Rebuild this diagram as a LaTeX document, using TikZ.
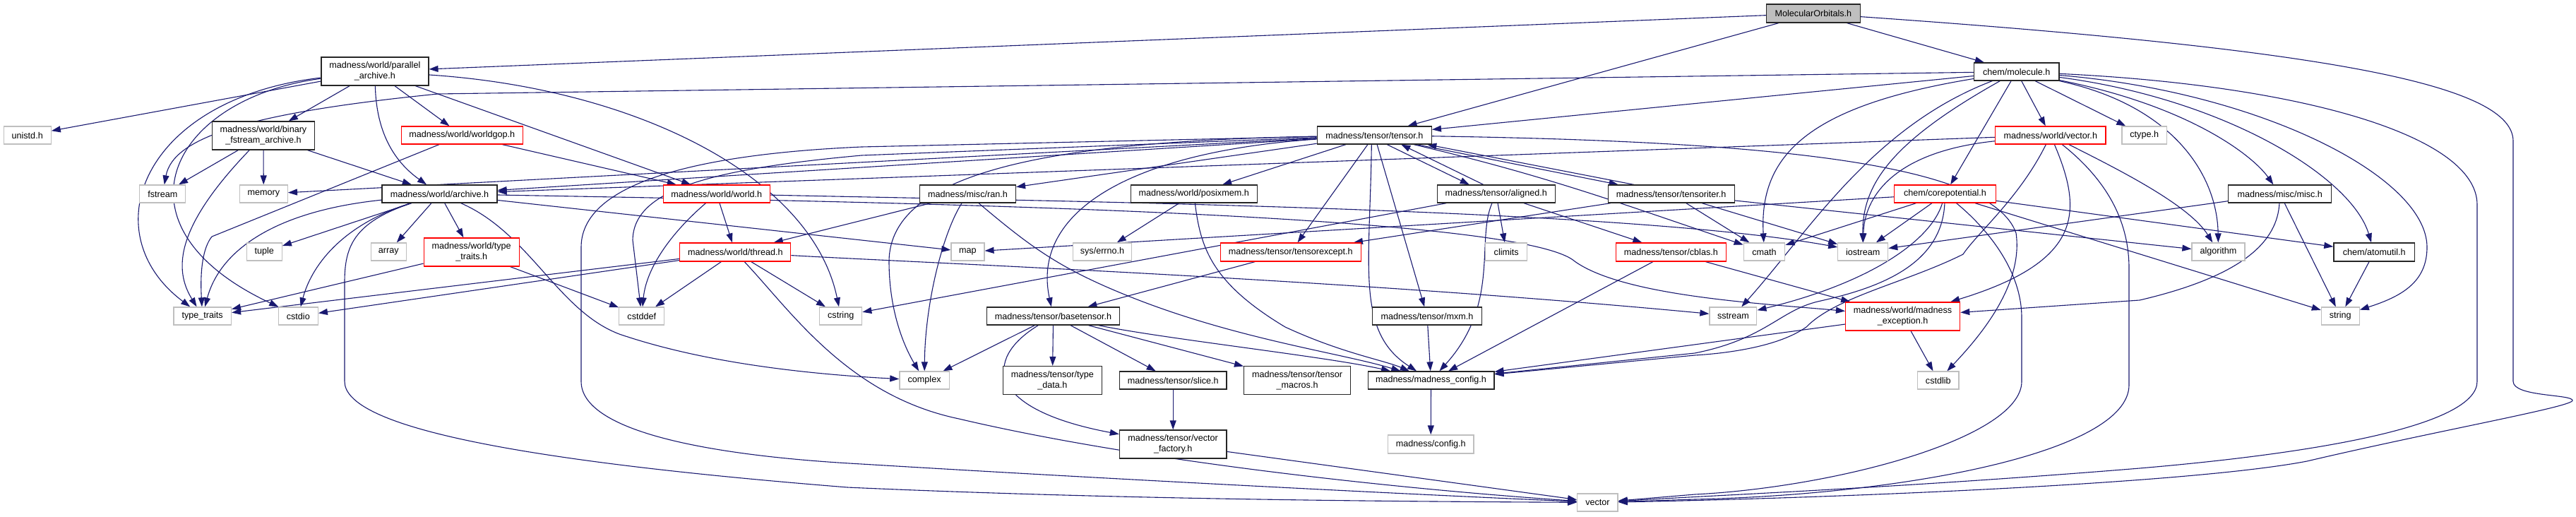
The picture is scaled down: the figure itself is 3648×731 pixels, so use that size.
\documentclass[tikz,border=0pt]{standalone}
\usepackage{fontspec}
\setmainfont{Liberation Sans}
\usetikzlibrary{arrows.meta,backgrounds}
\definecolor{edgec}{RGB}{25,25,112}
\definecolor{extc}{RGB}{191,191,191}
\definecolor{redc}{RGB}{255,0,0}
\definecolor{mofill}{RGB}{191,191,191}
\newcommand\fs{\fontsize{12.6}{14.7}\selectfont}
\newcommand\nd[7]{\node[#2, minimum width=#5pt, minimum height=#6pt] (#1) at (#3,#4) {#7};}
\begin{document}
\begin{tikzpicture}[x=1pt,y=-1pt,
 base/.style={draw, line width=1.3pt, inner sep=0pt, font=\fs, align=center, fill=white, text=black},
 doc/.style={base, draw=black!85},
 trunc/.style={base, draw=redc},
 ext/.style={base, draw=extc},
 root/.style={base, draw=black!85, fill=mofill},
 edge/.style={draw=edgec, line width=1.1pt, -{Triangle[length=13pt,width=9pt]}}]
\useasboundingbox (0,0) rectangle (3648,731);
% nodes
\nd{MO}{root}{2567.9}{19}{132.5}{26}{MolecularOrbitals.h}
\nd{PA}{doc}{530.9}{101}{152}{40}{madness/world/parallel\\\_archive.h}
\nd{MOL}{doc}{2855.7}{101.5}{120.6}{25}{chem/molecule.h}
\nd{TEN}{doc}{1946.3}{191.5}{162}{25}{madness/tensor/tensor.h}
\nd{UNI}{ext}{38.7}{191.5}{67}{25}{unistd.h}
\nd{BIN}{doc}{373}{192}{145}{40}{madness/world/binary\\\_fstream\_archive.h}
\nd{GOP}{trunc}{654.3}{191.5}{172}{25}{madness/world/worldgop.h}
\nd{VEC}{trunc}{2903.8}{191.5}{156.5}{25}{madness/world/vector.h}
\nd{CTY}{ext}{3036.7}{191.5}{63.4}{25}{ctype.h}
\nd{FST}{ext}{230.3}{274.5}{65}{25}{fstream}
\nd{MEM}{ext}{373.3}{274.5}{68}{25}{memory}
\nd{ARC}{doc}{622.5}{274.5}{163}{25}{madness/world/archive.h}
\nd{WLD}{trunc}{1014.8}{274.5}{151}{25}{madness/world/world.h}
\nd{RAN}{doc}{1370.4}{274.5}{136}{25}{madness/misc/ran.h}
\nd{PMX}{doc}{1690.7}{274.5}{179}{25}{madness/world/posixmem.h}
\nd{ALI}{doc}{2118.7}{274.5}{167}{25}{madness/tensor/aligned.h}
\nd{TIT}{doc}{2366.7}{274.5}{179}{25}{madness/tensor/tensoriter.h}
\nd{CPT}{trunc}{2754.5}{274.5}{143.5}{25}{chem/corepotential.h}
\nd{MSC}{doc}{3228.7}{274.5}{146}{25}{madness/misc/misc.h}
\nd{TUP}{ext}{374.3}{356.5}{50}{25}{tuple}
\nd{ARR}{ext}{550.2}{356.5}{50}{25}{array}
\nd{WTT}{trunc}{667.7}{357}{135}{40}{madness/world/type\\\_traits.h}
\nd{THR}{trunc}{1041.3}{357}{157}{26}{madness/world/thread.h}
\nd{MAP}{ext}{1370.4}{356.5}{47}{25}{map}
\nd{ERR}{ext}{1561}{356.5}{83}{25}{sys/errno.h}
\nd{TEX}{trunc}{1827.8}{357}{199}{26}{madness/tensor/tensorexcept.h}
\nd{CLM}{ext}{2133.2}{356.5}{59}{25}{climits}
\nd{CBL}{trunc}{2366.3}{357}{156}{26}{madness/tensor/cblas.h}
\nd{CMA}{ext}{2498.5}{356.5}{58.5}{25}{cmath}
\nd{IOS}{ext}{2638.2}{356.5}{70.8}{25}{iostream}
\nd{ALG}{ext}{3141.5}{356.5}{75}{25}{algorithm}
\nd{ATU}{doc}{3362.2}{357}{114.7}{26}{chem/atomutil.h}
\nd{TTR}{ext}{286.7}{447.5}{81.5}{25}{type\_traits}
\nd{CSI}{ext}{422.3}{447.5}{56}{25}{cstdio}
\nd{CDF}{ext}{908.8}{447.5}{64}{25}{cstddef}
\nd{CST}{ext}{1190.7}{447.5}{60}{25}{cstring}
\nd{BTN}{doc}{1491.6}{447.5}{188}{25}{madness/tensor/basetensor.h}
\nd{MXM}{doc}{2021}{447.5}{155}{25}{madness/tensor/mxm.h}
\nd{SST}{ext}{2454.4}{447.5}{66.8}{25}{sstream}
\nd{MEX}{trunc}{2694.6}{448}{162}{40}{madness/world/madness\\\_exception.h}
\nd{STR}{ext}{3314.3}{447.5}{53.8}{25}{string}
\nd{CPX}{ext}{1309.1}{538.5}{70.4}{25}{complex}
\nd{TDT}{doc}{1490.4}{538.5}{140}{40}{madness/tensor/type\\\_data.h}
\nd{SLC}{doc}{1661.2}{538.5}{151.5}{25}{madness/tensor/slice.h}
\nd{TMC}{doc}{1837.1}{538.5}{151}{40}{madness/tensor/tensor\\\_macros.h}
\nd{MCF}{doc}{2026.5}{538.5}{178.7}{25}{madness/madness\_config.h}
\nd{CSL}{ext}{2744.8}{538.5}{58.5}{25}{cstdlib}
\nd{VFC}{doc}{1661.2}{629}{151.5}{40}{madness/tensor/vector\\\_factory.h}
\nd{CFG}{ext}{2026.2}{629}{121.8}{26}{madness/config.h}
\nd{STV}{ext}{2262.4}{711.5}{57.4}{25}{vector}
\begin{pgfonlayer}{background}
\fill[white] (0,0) rectangle (3648,731);
% MolecularOrbitals
\draw[edge] (MO) -- (PA);
\draw[edge] (MO) -- (TEN);
\draw[edge] (MO) -- (MOL);
\draw[edge] (MO) .. controls (3300,70) and (3559,120) .. (3559,200) -- (3559,540) .. controls (3559,562) and (3643,558) .. (3643,567) .. controls (3643,576) and (3450,610) .. (3267,653) .. controls (3100,685) and (2600,705) .. (STV);
% molecule
\draw[edge] (MOL) .. controls (3250,120) and (3508,190) .. (3508,290) -- (3508,540) .. controls (3508,600) and (3300,640) .. (3030,663) .. controls (2700,690) and (2450,700) .. (STV);
\draw[edge] (MOL) .. controls (3200,130) and (3437,250) .. (3437,350) .. controls (3437,400) and (3400,420) .. (STR);
\draw[edge] (MOL) .. controls (3150,140) and (3330,250) .. (ATU);
\draw[edge] (MOL) .. controls (3100,150) and (3190,220) .. (MSC);
\draw[edge] (MOL) .. controls (3080,150) and (3140,250) .. (ALG);
\draw[edge] (MOL) .. controls (2560,150) and (2491,220) .. (CMA);
\draw[edge] (MOL) .. controls (2650,180) and (2560,330) .. (SST);
\draw[edge] (MOL) .. controls (2680,200) and (2637,260) .. (IOS);
\draw[edge] (MOL) -- (CPT);
\draw[edge] (MOL) -- (VEC);
\draw[edge] (MOL) -- (CTY);
\draw[edge] (MOL) -- (620,133) .. controls (350,160) and (245,195) .. (FST);
\draw[edge] (MOL) -- (TEN);
% parallel_archive
\draw[edge] (PA) -- (UNI);
\draw[edge] (PA) -- (BIN);
\draw[edge] (PA) -- (GOP);
\draw[edge] (PA) -- (WLD);
\draw[edge] (PA) .. controls (533,190) and (560,230) .. (ARC);
\draw[edge] (PA) .. controls (900,125) and (1150,250) .. (CST);
\draw[edge] (PA) .. controls (200,140) and (130,330) .. (TTR);
\draw[edge] (PA) .. controls (240,140) and (150,320) .. (CSI);
% binary
\draw[edge] (BIN) -- (FST);
\draw[edge] (BIN) -- (MEM);
\draw[edge] (BIN) -- (ARC);
\draw[edge] (BIN) .. controls (250,320) and (245,380) .. (TTR);
% worldgop
\draw[edge] (GOP) -- (WLD);
\draw[edge] (GOP) -- (300,335) .. controls (288,350) and (283,380) .. (TTR);
% archive
\draw[edge] (ARC) -- (TUP);
\draw[edge] (ARC) -- (ARR);
\draw[edge] (ARC) -- (WTT);
\draw[edge] (ARC) .. controls (380,300) and (310,360) .. (TTR);
\draw[edge] (ARC) .. controls (480,320) and (440,380) .. (CSI);
\draw[edge] (ARC) .. controls (500,315) and (488,350) .. (488,400) -- (488,540) .. controls (488,600) and (700,650) .. (1200,690) .. controls (1600,708) and (2000,710) .. (STV);
\draw[edge] (ARC) .. controls (750,330) and (790,440) .. (877,473) .. controls (1000,515) and (1150,530) .. (CPX);
\draw[edge] (ARC) -- (MAP);
\draw[edge] (ARC) .. controls (1200,285) and (2150,300) .. (2230,370) .. controls (2300,420) and (2500,430) .. (MEX);
% world
\draw[edge] (WLD) -- (THR);
\draw[edge] (WLD) .. controls (950,330) and (915,380) .. (CDF);
\draw[edge] (WLD) .. controls (1500,285) and (2300,295) .. (IOS);
% thread
\draw[edge] (THR) -- (CDF);
\draw[edge] (THR) -- (CST);
\draw[edge] (THR) -- (TTR);
\draw[edge] (THR) -- (CSI);
\draw[edge] (THR) .. controls (1120,440) and (1200,560) .. (1358,593) .. controls (1600,650) and (1950,690) .. (STV);
\draw[edge] (THR) .. controls (1300,372) and (1900,395) .. (SST);
% type_traits red
\draw[edge] (WTT) -- (TTR);
\draw[edge] (WTT) -- (CDF);
% ran
\draw[edge] (RAN) -- (THR);
\draw[edge] (RAN) .. controls (1335,330) and (1310,430) .. (CPX);
\draw[edge] (RAN) .. controls (1460,350) and (1500,380) .. (1600,420) .. controls (1750,480) and (1900,500) .. (MCF);
% posixmem
\draw[edge] (PMX) -- (ERR);
\draw[edge] (PMX) .. controls (1700,350) and (1715,400) .. (1820,463) .. controls (1900,500) and (1960,510) .. (MCF);
% tensor
\draw[edge] (TEN) -- (MEM);
\draw[edge] (TEN) -- (ARC);
\draw[edge] (TEN) -- (RAN);
\draw[edge] (TEN) -- (PMX);
\draw[edge] (TEN) .. controls (1500,200) and (1260,240) .. (1259,370) .. controls (1259,440) and (1280,490) .. (CPX);
\draw[edge] (TEN) -- (1220,220) .. controls (1000,240) and (897,270) .. (896,340) -- (CDF);
\draw[edge] (TEN) -- (1220,208) .. controls (950,220) and (823,270) .. (823,350) -- (823,540) .. controls (823,610) and (1000,645) .. (1220,657) .. controls (1600,680) and (2000,700) .. (STV);
\draw[edge] ([xshift=18pt]TEN.south) -- ([xshift=-38pt]ALI.north);
\draw[edge] ([xshift=-18pt]ALI.north) -- ([xshift=38pt]TEN.south);
\draw[edge] ([xshift=60pt]TEN.south) -- ([xshift=-75pt]TIT.north);
\draw[edge] ([xshift=-53pt]TIT.north) -- ([xshift=75pt]TEN.south);
\draw[edge] (TEN) -- (TEX);
\draw[edge] (TEN) .. controls (1600,215) and (1460,300) .. (BTN);
\draw[edge] ([xshift=-4pt]TEN.south) .. controls (1940,380) and (1920,470) .. (MCF);
\draw[edge] (TEN) -- (MXM);
\draw[edge] (TEN) .. controls (2500,200) and (2820,230) .. (2855,330) .. controls (2865,400) and (2810,470) .. (CSL);
\draw[edge] (TEN) .. controls (2195,250) and (2300,290) .. (CMA);
% aligned
\draw[edge] (ALI) -- (CLM);
\draw[edge] (ALI) -- (CBL);
\draw[edge] (ALI) .. controls (2090,340) and (2125,430) .. (MCF);
\draw[edge] (ALI) -- (CST);
% tensoriter
\draw[edge] (TIT) -- (TEX);
\draw[edge] (TIT) -- (CMA);
\draw[edge] (TIT) -- (IOS);
\draw[edge] (TIT) -- (ALG);
% tensorexcept, cblas
\draw[edge] (TEX) -- (BTN);
\draw[edge] (CBL) -- (MCF);
\draw[edge] (CBL) -- (MEX);
% basetensor
\draw[edge] (BTN) -- (CPX);
\draw[edge] (BTN) -- (TDT);
\draw[edge] (BTN) -- (SLC);
\draw[edge] (BTN) -- (TMC);
\draw[edge] (BTN) .. controls (1650,480) and (1880,505) .. (MCF);
\draw[edge] (BTN) .. controls (1390,510) and (1400,580) .. (VFC);
\draw[edge] (SLC) -- (VFC);
\draw[edge] (VFC) -- (STV);
\draw[edge] (MXM) -- (MCF);
\draw[edge] (MCF) -- (CFG);
\draw[edge] (MEX) -- (MCF);
\draw[edge] (MEX) -- (CSL);
% corepotential
\draw[edge] (CPT) -- (MAP);
\draw[edge] (CPT) -- (CMA);
\draw[edge] (CPT) -- (IOS);
\draw[edge] (CPT) .. controls (2735,340) and (2650,400) .. (SST);
\draw[edge] (CPT) .. controls (2750,380) and (2650,410) .. (2574,427) .. controls (2520,440) and (2500,480) .. (2400,500) -- (MCF);
\draw[edge] (CPT) .. controls (2810,320) and (2863,380) .. (2863,450) -- (2863,540) .. controls (2863,620) and (2600,690) .. (2400,700) -- (STV);
\draw[edge] (CPT) -- (STR);
\draw[edge] (CPT) -- (ATU);
% vector.h
\draw[edge] (VEC) -- (ARC);
\draw[edge] (VEC) .. controls (2680,215) and (2640,280) .. (IOS);
\draw[edge] (VEC) .. controls (2860,280) and (2800,330) .. (2780,360) .. controls (2700,400) and (2600,420) .. (2558,463) .. controls (2520,490) and (2450,500) .. (2400,503) -- (MCF);
\draw[edge] (VEC) .. controls (2950,300) and (2950,370) .. (MEX);
\draw[edge] (VEC) .. controls (2990,260) and (3015,320) .. (3015,380) -- (3015,545) .. controls (3015,640) and (2700,700) .. (2400,707) -- (STV);
\draw[edge] (VEC) .. controls (3000,240) and (3100,290) .. (ALG);
% misc, atomutil
\draw[edge] (MSC) -- (IOS);
\draw[edge] (MSC) .. controls (3225,340) and (3180,390) .. (3030,425) -- (MEX);
\draw[edge] (MSC) -- (STR);
\draw[edge] (ATU) -- (STR);
\end{pgfonlayer}
\end{tikzpicture}
\end{document}
